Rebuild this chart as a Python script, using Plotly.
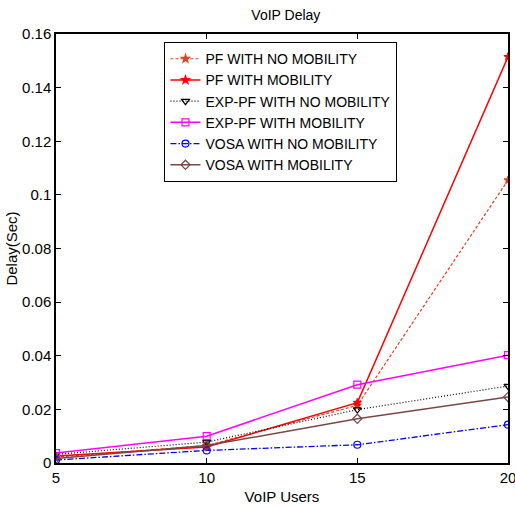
import plotly.graph_objects as go

users = [5, 10, 15, 20]
pf_no_mob = [0.0022, 0.0065, 0.0215, 0.1055]
pf_mob = [0.0026, 0.0060, 0.0225, 0.1515]
exp_no_mob = [0.0032, 0.0078, 0.0199, 0.0287]
exp_mob = [0.0037, 0.0100, 0.0292, 0.0402]
vosa_no_mob = [0.0011, 0.0047, 0.0068, 0.0143]
vosa_mob = [0.0017, 0.0065, 0.0165, 0.0246]

names = ["PF WITH NO MOBILITY", "PF WITH MOBILITY", "EXP-PF WITH NO MOBILITY",
         "EXP-PF WITH MOBILITY", "VOSA WITH NO MOBILITY", "VOSA WITH MOBILITY"]
series = [pf_no_mob, pf_mob, exp_no_mob, exp_mob, vosa_no_mob, vosa_mob]
colors = ["#e8401c", "#ff0000", "#000000", "#ff00ff", "#0000ff", "#7a4646"]
dashes = ["3px,2px", "solid", "1px,2px", "solid", "6px,2px,1.5px,2px", "solid"]
widths = [1.2, 1.5, 1.2, 1.5, 1.3, 1.5]
symbols = ["star", "star", "triangle-down-open", "square-open", "circle-open", "diamond-open"]
sizes = [6, 6, 7, 7, 7, 7]

fig = go.Figure()
for n, s, c, d, w, m, sz in zip(names, series, colors, dashes, widths, symbols, sizes):
    fig.add_trace(go.Scatter(x=users, y=s, name=n, mode="lines+markers",
                             line=dict(color=c, dash=d, width=w),
                             marker=dict(symbol=m, size=sz, color=c, line=dict(color=c, width=1.2))))

axis_common = dict(showline=True, linecolor="black", mirror="ticks", automargin=False,
                   ticks="inside", ticklen=5, tickcolor="black", showgrid=False, zeroline=False,
                   ticklabeloverflow="allow", tickfont=dict(size=15, color="black"))
fig.update_xaxes(range=[5, 20], tickvals=[5, 10, 15, 20], linewidth=2,
                 title=dict(text="VoIP Users", font=dict(size=15, color="black"), standoff=6),
                 **axis_common)
fig.update_yaxes(range=[0, 0.16], tickvals=[0, 0.02, 0.04, 0.06, 0.08, 0.1, 0.12, 0.14, 0.16],
                 ticktext=["0", "0.02", "0.04", "0.06", "0.08", "0.1", "0.12", "0.14", "0.16"],
                 linewidth=1.5,
                 title=dict(text="Delay(Sec)", font=dict(size=15, color="black"), standoff=1),
                 **axis_common)
fig.update_layout(
    width=515, height=507,
    margin=dict(l=56, r=7, t=34, b=44, autoexpand=False),
    paper_bgcolor="white", plot_bgcolor="white",
    font=dict(family="Liberation Sans, Arial", color="black"),
    title=dict(text="VoIP Delay", x=0.555, xanchor="center", y=0.97, yanchor="middle",
               font=dict(size=14, color="black")),
    legend=dict(x=0.24, y=0.981, xanchor="left", yanchor="top",
                bordercolor="black", borderwidth=1, bgcolor="white",
                font=dict(size=14, color="black"),
                tracegroupgap=0, itemwidth=30),
)
fig.write_html("out.html")
